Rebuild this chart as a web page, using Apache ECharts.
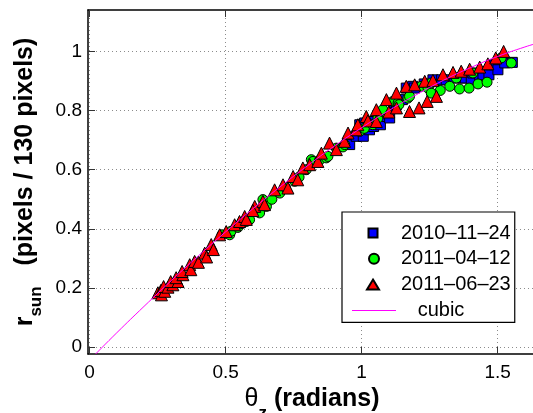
<!DOCTYPE html>
<html><head><meta charset="utf-8">
<script src="https://cdn.jsdelivr.net/npm/echarts@6/dist/echarts.min.js"></script>
<style>html,body{margin:0;padding:0;background:#fff}#c{width:533px;height:413px}</style>
</head><body><div id="c"></div>
<script>
var xTicks = [0, 0.5, 1, 1.5];
var yTicks = [0, 0.2, 0.4, 0.6, 0.8, 1];
var seriesNames = ['2010\u201311\u201324', '2011\u201304\u201312', '2011\u201306\u201323', 'cubic'];

var blue = [[0.956,0.685],[0.980,0.713],[1.006,0.713],[0.993,0.752],[1.011,0.758],[1.029,0.735],[1.044,0.746],[1.044,0.763],[1.064,0.758],[1.069,0.752],[1.088,0.780],[1.103,0.775],[1.119,0.809],[1.121,0.826],[1.128,0.820],[1.150,0.837],[1.164,0.876],[1.188,0.882],[1.194,0.876],[1.230,0.890],[1.262,0.904],[1.294,0.904],[1.311,0.904],[1.342,0.910],[1.372,0.910],[1.381,0.910],[1.403,0.906],[1.409,0.927],[1.434,0.918],[1.446,0.921],[1.468,0.921],[1.489,0.955],[1.501,0.938],[1.526,0.961],[1.554,0.963]];

var green = [[0.487,0.380],[0.515,0.380],[0.520,0.392],[0.545,0.405],[0.560,0.418],[0.576,0.425],[0.588,0.431],[0.619,0.459],[0.625,0.454],[0.637,0.499],[0.650,0.476],[0.670,0.500],[0.699,0.521],[0.720,0.540],[0.754,0.561],[0.770,0.575],[0.796,0.600],[0.815,0.634],[0.821,0.628],[0.845,0.632],[0.870,0.640],[0.876,0.645],[0.907,0.673],[0.931,0.677],[0.938,0.685],[0.993,0.730],[1.010,0.740],[1.041,0.752],[1.060,0.775],[1.078,0.797],[1.078,0.803],[1.115,0.831],[1.134,0.826],[1.137,0.820],[1.170,0.842],[1.176,0.848],[1.219,0.882],[1.244,0.876],[1.256,0.859],[1.256,0.893],[1.289,0.868],[1.324,0.882],[1.348,0.910],[1.360,0.873],[1.395,0.876],[1.409,0.927],[1.428,0.890],[1.461,0.896],[1.513,0.978],[1.550,0.961]];

var red = [[0.251,0.184],[0.264,0.177],[0.262,0.192],[0.276,0.189],[0.272,0.205],[0.288,0.203],[0.306,0.211],[0.298,0.222],[0.325,0.222],[0.318,0.235],[0.343,0.245],[0.340,0.256],[0.368,0.279],[0.372,0.262],[0.386,0.290],[0.400,0.287],[0.423,0.318],[0.430,0.305],[0.447,0.347],[0.455,0.330],[0.478,0.380],[0.502,0.391],[0.533,0.414],[0.551,0.425],[0.570,0.442],[0.576,0.432],[0.607,0.476],[0.600,0.462],[0.637,0.493],[0.643,0.482],[0.680,0.532],[0.711,0.549],[0.729,0.538],[0.748,0.577],[0.765,0.566],[0.784,0.606],[0.809,0.617],[0.839,0.628],[0.852,0.656],[0.882,0.690],[0.907,0.668],[0.937,0.696],[0.950,0.724],[0.980,0.735],[0.986,0.752],[1.017,0.780],[1.023,0.765],[1.054,0.803],[1.054,0.763],[1.091,0.837],[1.100,0.795],[1.128,0.859],[1.128,0.809],[1.164,0.882],[1.176,0.797],[1.195,0.887],[1.211,0.809],[1.232,0.899],[1.241,0.831],[1.262,0.902],[1.275,0.848],[1.299,0.921],[1.336,0.929],[1.366,0.933],[1.397,0.940],[1.434,0.947],[1.464,0.958],[1.493,0.978],[1.522,1.000]];

var cubicX = [0.022, 0.1, 0.2, 0.3, 0.4, 0.5, 0.6, 0.7, 0.8, 0.9, 1.0, 1.1, 1.2, 1.3, 1.4, 1.5, 1.6, 1.65];
var cubicY = [-0.023, 0.049, 0.138, 0.225, 0.309, 0.390, 0.468, 0.542, 0.613, 0.680, 0.742, 0.800, 0.853, 0.902, 0.945, 0.983, 1.015, 1.029];

var FONT = '"Liberation Sans", Arial, Helvetica, sans-serif';
var cubicData = cubicX.map(function (x, i) { return [x, cubicY[i]]; });

var chart = echarts.init(document.getElementById('c'), null, {renderer: 'canvas'});
var gridLine = {show: true, lineStyle: {color: '#8c8c8c', width: 1, type: [1, 3]}};
function rt(size, weight, pad) {
  var o = {fontSize: size, fontWeight: weight, fontFamily: FONT, color: '#000', verticalAlign: 'top', lineHeight: pad ? size : 29};
  if (pad) o.padding = [pad, 0, 0, 0];
  return o;
}
chart.setOption({
  backgroundColor: '#fff',
  animation: false,
  grid: {left: 88, top: 10, width: 448, height: 344, containLabel: false, outerBoundsMode: 'none'},
  xAxis: [{
    type: 'value', min: -0.006, max: 1.641, position: 'bottom',
    axisLine: {show: true, onZero: false, lineStyle: {color: '#000', width: 1.5}},
    axisTick: {show: true, inside: true, length: 7, customValues: xTicks, lineStyle: {color: '#333'}},
    axisLabel: {show: true, customValues: xTicks, margin: 9, fontSize: 19, color: '#000', fontFamily: FONT,
      formatter: function (v) { return String(v); }},
    splitLine: gridLine,
    name: '{th|\u03b8}{z|z}{t| (radians)}', nameLocation: 'middle', nameGap: 29,
    nameTextStyle: {color: '#000', fontFamily: FONT, fontSize: 25, fontWeight: 'bold',
      rich: {th: rt(25, 'normal'), z: rt(17, 'bold', 18), t: rt(25, 'bold')}}
  }, {
    type: 'value', min: -0.006, max: 1.641, position: 'top',
    axisLine: {show: true, onZero: false, lineStyle: {color: '#000', width: 1.5}},
    axisTick: {show: true, inside: true, length: 7, customValues: xTicks, lineStyle: {color: '#333'}},
    axisLabel: {show: false}, splitLine: {show: false}
  }],
  yAxis: [{
    type: 'value', min: -0.023, max: 1.14,
    axisLine: {show: true, onZero: false, lineStyle: {color: '#000', width: 1.5}},
    axisTick: {show: true, inside: true, length: 7, customValues: yTicks, lineStyle: {color: '#333'}},
    axisLabel: {show: true, customValues: yTicks, margin: 6, fontSize: 19, color: '#000', fontFamily: FONT,
      formatter: function (v) { return String(v); }},
    splitLine: gridLine,
    name: '{r|r}{s|sun}{t|   (pixels / 130 pixels)}', nameLocation: 'middle', nameGap: 41, nameRotate: 90,
    nameTextStyle: {color: '#000', fontFamily: FONT, fontSize: 25, fontWeight: 'bold',
      rich: {r: rt(25, 'bold'), s: rt(17, 'bold', 15), t: rt(25, 'bold')}}
  }],
  legend: {
    show: true, orient: 'vertical', left: 342, top: 212,
    data: [
      {name: seriesNames[0], icon: 'path://M0,0M44,10M16.5,0.5L25.5,0.5L25.5,9.5L16.5,9.5Z'},
      {name: seriesNames[1], icon: 'circle'},
      {name: seriesNames[2], icon: 'path://M0,0M44,10M21,0L27,10L15,10Z'},
      {name: seriesNames[3], icon: 'path://M0,4.5L44,4.5L44,5.5L0,5.5Z'}
    ],
    backgroundColor: '#fff', borderColor: '#000', borderWidth: 1.2,
    padding: [11, 4, 2, 9], itemWidth: 44, itemHeight: 10, itemGap: 5.8,
    textStyle: {fontSize: 20, lineHeight: 20, color: '#000', fontFamily: FONT},
    formatter: function (n) { return n === 'cubic' ? '   cubic' : n; }
  },
  series: [
    {name: seriesNames[0], type: 'scatter', data: blue, symbol: 'rect', symbolSize: 10,
     itemStyle: {color: '#0000ff', borderColor: '#000', borderWidth: 1, opacity: 1}},
    {name: seriesNames[1], type: 'scatter', data: green, symbol: 'circle', symbolSize: 10,
     itemStyle: {color: '#00ff00', borderColor: '#000', borderWidth: 1, opacity: 1}},
    {name: seriesNames[2], type: 'scatter', data: red, symbol: 'triangle', symbolSize: 12,
     itemStyle: {color: '#ff0000', borderColor: '#000', borderWidth: 1, opacity: 1}},
    {name: seriesNames[3], type: 'line', data: cubicData, symbol: 'none', smooth: true, clip: true,
     lineStyle: {color: '#ff00ff', width: 1}, itemStyle: {color: '#ff00ff'}}
  ]
});
</script></body></html>
